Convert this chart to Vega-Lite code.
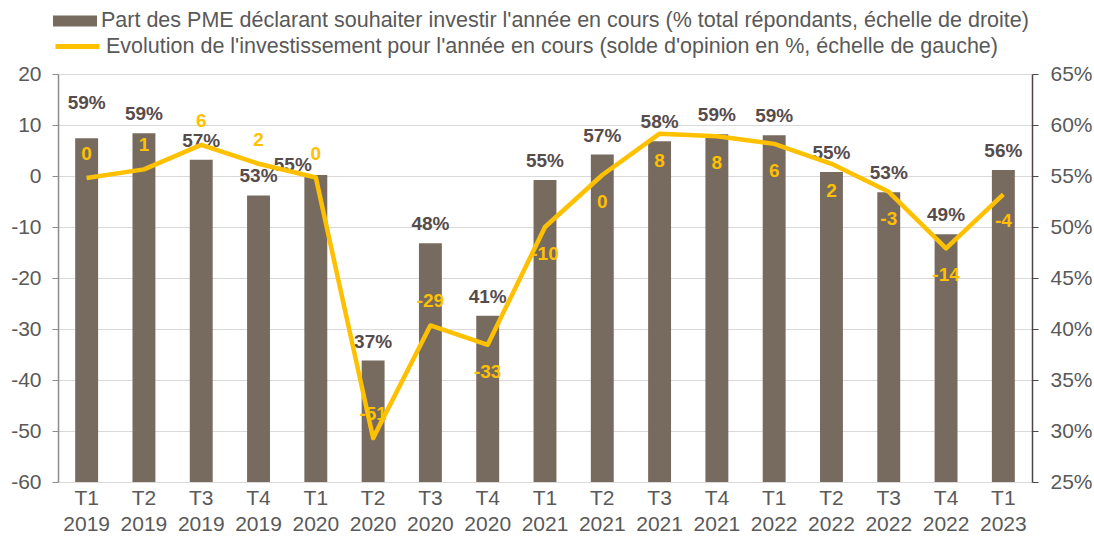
{
  "$schema": "https://vega.github.io/schema/vega-lite/v6.json",
  "width": 974,
  "height": 408,
  "autosize": {"type": "none"},
  "padding": {"left": 58, "top": 74, "right": 62, "bottom": 61},
  "background": "white",
  "config": {
    "font": "Liberation Sans",
    "view": {"stroke": null},
    "locale": {"number": {"decimal": ".", "thousands": ",", "grouping": [3], "currency": ["", ""], "minus": "-", "percent": "%"}}
  },
  "data": {
    "values": [
      {"periode": "T1 2019", "part": 0.587, "solde": -0.4},
      {"periode": "T2 2019", "part": 0.592, "solde": 1.3},
      {"periode": "T3 2019", "part": 0.566, "solde": 6.1},
      {"periode": "T4 2019", "part": 0.531, "solde": 2.4},
      {"periode": "T1 2020", "part": 0.551, "solde": -0.3},
      {"periode": "T2 2020", "part": 0.369, "solde": -51.4},
      {"periode": "T3 2020", "part": 0.484, "solde": -29.3},
      {"periode": "T4 2020", "part": 0.413, "solde": -33.1},
      {"periode": "T1 2021", "part": 0.546, "solde": -10.0},
      {"periode": "T2 2021", "part": 0.571, "solde": 0.2},
      {"periode": "T3 2021", "part": 0.584, "solde": 8.3},
      {"periode": "T4 2021", "part": 0.591, "solde": 7.8},
      {"periode": "T1 2022", "part": 0.590, "solde": 6.3},
      {"periode": "T2 2022", "part": 0.554, "solde": 2.4},
      {"periode": "T3 2022", "part": 0.534, "solde": -3.1},
      {"periode": "T4 2022", "part": 0.493, "solde": -14.2},
      {"periode": "T1 2023", "part": 0.556, "solde": -3.6}
    ]
  },
  "encoding": {
    "x": {
      "field": "periode",
      "type": "nominal",
      "sort": null,
      "scale": {"paddingInner": 0.6, "paddingOuter": 0.3},
      "axis": {
        "title": null,
        "labelExpr": "split(datum.label, ' ')",
        "labelFontSize": 21,
        "labelColor": "#595959",
        "labelAngle": 0,
        "ticks": false,
        "domain": false,
        "labelPadding": 5,
        "labelLineHeight": 26
      }
    }
  },
  "layer": [
    {
      "layer": [
        {
          "mark": {"type": "bar"},
          "encoding": {
            "y": {
              "field": "part",
              "type": "quantitative",
              "scale": {"domain": [0.25, 0.65], "nice": false, "zero": false},
              "axis": {
                "orient": "right",
                "title": null,
                "values": [0.25, 0.3, 0.35, 0.4, 0.45, 0.5, 0.55, 0.6, 0.65],
                "format": ".0%",
                "grid": false,
                "domainColor": "#4F4545",
                "domainWidth": 1.5,
                "tickColor": "#4F4545",
                "tickSize": 6,
                "labelFontSize": 21,
                "labelColor": "#595959",
                "labelPadding": 12
              }
            },
            "y2": {"datum": 0.25},
            "fill": {
              "datum": "Part des PME déclarant souhaiter investir l'année en cours (% total répondants, échelle de droite)",
              "scale": {"range": ["#776B60"]},
              "legend": {
                "orient": "none",
                "legendX": -5,
                "legendY": -75,
                "title": null,
                "symbolType": "M-1,-0.25H1V0.25H-1Z",
                "symbolSize": 1936,
                "symbolStrokeWidth": 0,
                "labelFontSize": 21.5,
                "labelColor": "#595959",
                "labelOffset": 4,
                "labelLimit": 1200
              }
            }
          }
        },
        {
          "transform": [{"filter": {"not": {"field": "periode", "oneOf": ["T1 2019", "T1 2020"]}}}],
          "mark": {"type": "text", "dy": -19, "fontSize": 19, "fontWeight": "bold", "color": "#574C4C"},
          "encoding": {
            "y": {"field": "part", "type": "quantitative"},
            "text": {"field": "part", "type": "quantitative", "format": ".0%"}
          }
        },
        {
          "transform": [{"filter": {"field": "periode", "equal": "T1 2019"}}],
          "mark": {"type": "text", "dy": -35, "fontSize": 19, "fontWeight": "bold", "color": "#574C4C"},
          "encoding": {
            "y": {"field": "part", "type": "quantitative"},
            "text": {"field": "part", "type": "quantitative", "format": ".0%"}
          }
        },
        {
          "transform": [{"filter": {"field": "periode", "equal": "T1 2020"}}],
          "mark": {"type": "text", "dy": -10, "dx": -23, "fontSize": 19, "fontWeight": "bold", "color": "#574C4C"},
          "encoding": {
            "y": {"field": "part", "type": "quantitative"},
            "text": {"field": "part", "type": "quantitative", "format": ".0%"}
          }
        }
      ]
    },
    {
      "layer": [
        {
          "mark": {"type": "rule", "color": "#878787", "strokeWidth": 1.5},
          "encoding": {
            "y": {
              "datum": 0,
              "type": "quantitative",
              "scale": {"domain": [-60, 20], "nice": false},
              "axis": {
                "orient": "left",
                "title": null,
                "values": [-60, -50, -40, -30, -20, -10, 0, 10, 20],
                "grid": true,
                "gridColor": "#D9D9D9",
                "gridWidth": 1,
                "domainColor": "#8C8C8C",
                "domainWidth": 1.5,
                "tickColor": "#8C8C8C",
                "tickSize": 6,
                "labelFontSize": 21,
                "labelColor": "#595959",
                "labelPadding": 11
              }
            }
          }
        },
        {
          "mark": {"type": "line", "strokeWidth": 4.5, "strokeJoin": "round"},
          "encoding": {
            "y": {"field": "solde", "type": "quantitative"},
            "stroke": {
              "datum": "Evolution de l'investissement pour l'année en cours (solde d'opinion en %, échelle de gauche)",
              "scale": {"range": ["#FFC000"]},
              "legend": {
                "orient": "none",
                "legendX": -5,
                "legendY": -52,
                "title": null,
                "symbolType": "stroke",
                "symbolSize": 1936,
                "symbolStrokeWidth": 5,
                "labelFontSize": 21.5,
                "labelColor": "#595959",
                "labelOffset": 4,
                "labelLimit": 1200
              }
            }
          }
        },
        {
          "transform": [{"filter": {"field": "periode", "oneOf": ["T1 2019", "T2 2019", "T3 2019", "T4 2019", "T1 2020", "T2 2020", "T3 2020"]}}],
          "mark": {"type": "text", "dy": -24, "fontSize": 19, "fontWeight": "bold", "color": "#FFC000"},
          "encoding": {
            "y": {"field": "solde", "type": "quantitative"},
            "text": {"field": "solde", "type": "quantitative", "format": ".0f"}
          }
        },
        {
          "transform": [{"filter": {"field": "periode", "oneOf": ["T4 2020", "T1 2021", "T2 2021", "T3 2021", "T4 2021", "T1 2022", "T2 2022", "T3 2022", "T4 2022", "T1 2023"]}}],
          "mark": {"type": "text", "dy": 27, "fontSize": 19, "fontWeight": "bold", "color": "#FFC000"},
          "encoding": {
            "y": {"field": "solde", "type": "quantitative"},
            "text": {"field": "solde", "type": "quantitative", "format": ".0f"}
          }
        }
      ]
    }
  ],
  "resolve": {"scale": {"y": "independent"}}
}
